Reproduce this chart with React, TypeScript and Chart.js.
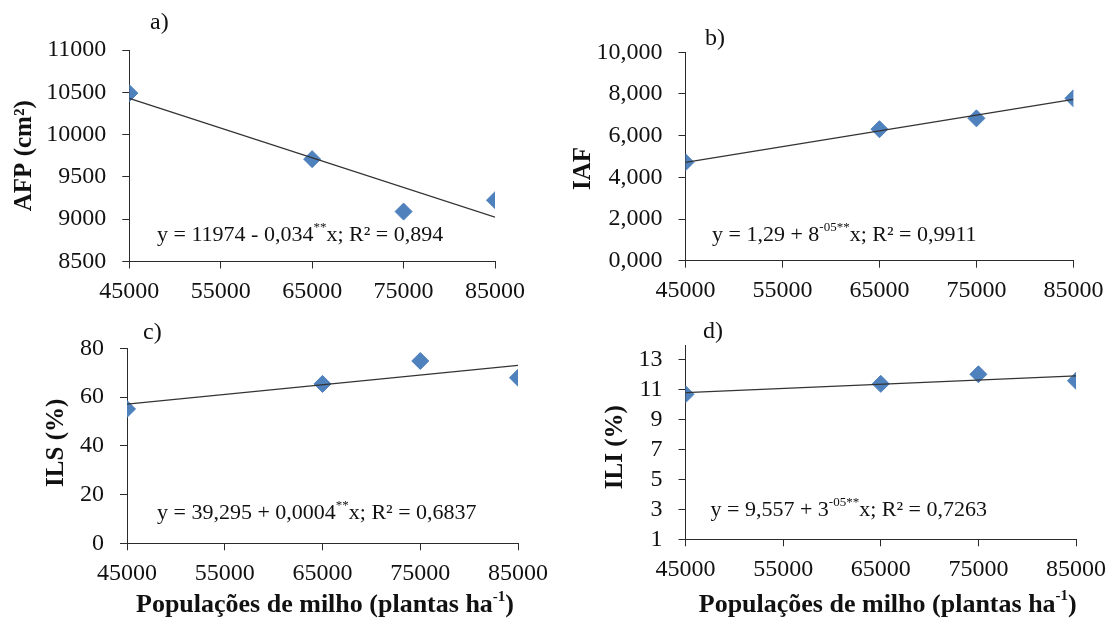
import React, { useEffect, useRef } from "react";
import { Chart, registerables } from "chart.js";

Chart.register(...registerables);

// ---------- data ----------
const populations = [45000, 65000, 75000, 85000];
const xTickValues = [45000, 55000, 65000, 75000, 85000];
const trendX = [45000, 85000];

const afpValues = [10490, 9710, 9090, 9225];
const afpTrend = [10428, 9025];
const afpTicks = [8500, 9000, 9500, 10000, 10500, 11000];

const iafValues = [4.72, 6.31, 6.83, 7.79];
const iafTrend = [4.72, 7.74];
const iafTicks = [0, 2, 4, 6, 8, 10];

const ilsValues = [55.1, 65.4, 74.8, 67.9];
const ilsTrend = [57.1, 73.0];
const ilsTicks = [0, 20, 40, 60, 80];

const iliValues = [10.7, 11.4, 12.04, 11.6];
const iliTrend = [10.81, 11.93];
const iliTicks = [1, 3, 5, 7, 9, 11, 13];

const xAxisTitle = [
  { t: "Populações de milho (plantas ha" },
  { t: "-1", sup: true },
  { t: ")" },
];

// ---------- styles ----------
const FAMILY = "'Liberation Serif', 'Times New Roman', serif";
const AXIS_COLOR = "#2b2b2b";
const TEXT_COLOR = "#111";
const MARKER_FILL = "#4F81BD";
const MARKER_EDGE = "#4A7EBB";
const TREND_COLOR = "#333";
const TICK_SIZE = 24;
const EQ_SIZE = 22;
const TITLE_SIZE = 25;
const XTITLE_SIZE = 26;
const LABEL_SIZE = 24;
const Y_SCALE_W = 110;
const X_SCALE_H = 44;

type Seg = { t: string; sup?: boolean };

type PanelCfg = {
  key: string;
  box: { left: number; top: number; width: number; height: number };
  area: { l: number; r: number; t: number; b: number };
  yMin: number;
  yMax: number;
  yTicks: number[];
  fmt: (v: number) => string;
  values: number[];
  trend: number[];
  label: string;
  labelOff: { dx: number; dy: number };
  yTitle: Seg[];
  yTitleOff: { dx: number; dy: number };
  eq: Seg[];
  eqOff: { dx: number; dy: number };
  xTitleOff?: { dx: number; dy: number };
};

const panels: PanelCfg[] = [
  {
    key: "a",
    box: { left: 0, top: 0, width: 557, height: 310 },
    area: { l: 129.3, r: 495, t: 50, b: 261.5 },
    yMin: 8500,
    yMax: 11000,
    yTicks: afpTicks,
    fmt: (v) => String(v),
    values: afpValues,
    trend: afpTrend,
    label: "a)",
    labelOff: { dx: 20.7, dy: -27 },
    yTitle: [{ t: "AFP (cm²)" }],
    yTitleOff: { dx: -104.3, dy: 0 },
    eq: [{ t: "y = 11974 - 0,034" }, { t: "**", sup: true }, { t: "x; R² = 0,894" }],
    eqOff: { dx: 27.7, dy: -26.5 },
  },
  {
    key: "b",
    box: { left: 557, top: 0, width: 558, height: 310 },
    area: { l: 685.5, r: 1073.4, t: 52.3, b: 260.7 },
    yMin: 0,
    yMax: 10,
    yTicks: iafTicks,
    fmt: (v) => v.toFixed(3).replace(".", ","),
    values: iafValues,
    trend: iafTrend,
    label: "b)",
    labelOff: { dx: 19.5, dy: -13.3 },
    yTitle: [{ t: "IAF" }],
    yTitleOff: { dx: -101.9, dy: 12 },
    eq: [{ t: "y = 1,29 + 8" }, { t: "-05**", sup: true }, { t: "x; R² = 0,9911" }],
    eqOff: { dx: 26.5, dy: -25.7 },
  },
  {
    key: "c",
    box: { left: 0, top: 310, width: 557, height: 309 },
    area: { l: 127, r: 526.3, t: 348.3, b: 543.3 },
    yMin: 0,
    yMax: 80,
    yTicks: ilsTicks,
    fmt: (v) => String(v),
    values: ilsValues,
    trend: ilsTrend,
    label: "c)",
    labelOff: { dx: 16, dy: -15.3 },
    yTitle: [{ t: "ILS (%)" }],
    yTitleOff: { dx: -70, dy: -3 },
    eq: [{ t: "y = 39,295 + 0,0004" }, { t: "**", sup: true }, { t: "x; R² = 0,6837" }],
    eqOff: { dx: 30, dy: -30.3 },
    xTitleOff: { dx: 2.5, dy: 62 },
  },
  {
    key: "d",
    box: { left: 557, top: 310, width: 558, height: 309 },
    area: { l: 685.5, r: 1080.6, t: 345, b: 539.3 },
    yMin: 1,
    yMax: 14,
    yTicks: iliTicks,
    fmt: (v) => String(v),
    values: iliValues,
    trend: iliTrend,
    label: "d)",
    labelOff: { dx: 17.5, dy: -13 },
    yTitle: [{ t: "ILI (%)" }],
    yTitleOff: { dx: -69.7, dy: 5 },
    eq: [{ t: "y = 9,557 + 3" }, { t: "-05**", sup: true }, { t: "x; R² = 0,7263" }],
    eqOff: { dx: 25, dy: -29.3 },
    xTitleOff: { dx: 7, dy: 65.5 },
  },
];

function drawRich(
  ctx: CanvasRenderingContext2D,
  segs: Seg[],
  x: number,
  y: number,
  size: number,
  bold: boolean,
  align: "left" | "center"
) {
  const w = bold ? "bold " : "";
  const baseFont = `${w}${size}px ${FAMILY}`;
  const supFont = `${w}${Math.round(size * 0.58)}px ${FAMILY}`;
  const widths = segs.map((s) => {
    ctx.font = s.sup ? supFont : baseFont;
    return ctx.measureText(s.t).width;
  });
  const total = widths.reduce((a, b) => a + b, 0);
  let cx = align === "center" ? x - total / 2 : x;
  ctx.textAlign = "left";
  ctx.textBaseline = "middle";
  ctx.fillStyle = TEXT_COLOR;
  segs.forEach((s, i) => {
    ctx.font = s.sup ? supFont : baseFont;
    ctx.fillText(s.t, cx, s.sup ? y - size * 0.33 : y);
    cx += widths[i];
  });
}

function makeTextPlugin(p: PanelCfg) {
  return {
    id: "panelText_" + p.key,
    afterDraw(chart: any) {
      const ctx: CanvasRenderingContext2D = chart.ctx;
      const a = chart.chartArea;
      ctx.save();
      drawRich(ctx, [{ t: p.label }], a.left + p.labelOff.dx, a.top + p.labelOff.dy, LABEL_SIZE, false, "left");
      drawRich(ctx, p.eq, a.left + p.eqOff.dx, a.bottom + p.eqOff.dy, EQ_SIZE, false, "left");
      ctx.save();
      ctx.translate(a.left + p.yTitleOff.dx, (a.top + a.bottom) / 2 + p.yTitleOff.dy);
      ctx.rotate(-Math.PI / 2);
      drawRich(ctx, p.yTitle, 0, 0, TITLE_SIZE, true, "center");
      ctx.restore();
      if (p.xTitleOff) {
        drawRich(
          ctx,
          xAxisTitle,
          (a.left + a.right) / 2 + p.xTitleOff.dx,
          a.bottom + p.xTitleOff.dy,
          XTITLE_SIZE,
          true,
          "center"
        );
      }
      ctx.restore();
    },
  };
}

function Panel({ p }: { p: PanelCfg }) {
  const ref = useRef<HTMLCanvasElement | null>(null);
  useEffect(() => {
    if (!ref.current) return;
    const padLeft = p.area.l - p.box.left - Y_SCALE_W;
    const padRight = p.box.left + p.box.width - p.area.r;
    const padTop = p.area.t - p.box.top;
    const padBottom = p.box.top + p.box.height - p.area.b - X_SCALE_H;
    const tickFont = { family: FAMILY, size: TICK_SIZE };
    const chart = new Chart(ref.current, {
      type: "scatter",
      data: {
        datasets: [
          {
            data: trendX.map((x, i) => ({ x, y: p.trend[i] })),
            showLine: true,
            borderColor: TREND_COLOR,
            borderWidth: 1.3,
            pointRadius: 0,
            fill: false,
            order: 0,
          },
          {
            data: populations.map((x, i) => ({ x, y: p.values[i] })),
            pointStyle: "rectRot",
            pointRadius: 8.5,
            backgroundColor: MARKER_FILL,
            borderColor: MARKER_EDGE,
            borderWidth: 1,
            order: 1,
          },
        ],
      } as any,
      options: {
        responsive: false,
        animation: false,
        devicePixelRatio: 1,
        events: [],
        layout: { padding: { left: padLeft, right: padRight, top: padTop, bottom: padBottom } },
        plugins: { legend: { display: false }, tooltip: { enabled: false } },
        scales: {
          x: {
            type: "linear",
            min: 45000,
            max: 85000,
            afterBuildTicks: (s: any) => {
              s.ticks = xTickValues.map((v) => ({ value: v }));
            },
            afterFit: (s: any) => {
              s.height = X_SCALE_H;
            },
            grid: { drawOnChartArea: false, drawTicks: true, tickLength: 7, color: AXIS_COLOR, tickColor: AXIS_COLOR },
            border: { display: true, color: AXIS_COLOR, width: 1 },
            ticks: {
              font: tickFont,
              color: TEXT_COLOR,
              padding: 9,
              maxRotation: 0,
              autoSkip: false,
              callback: (v: any) => String(v),
            },
          },
          y: {
            type: "linear",
            min: p.yMin,
            max: p.yMax,
            afterBuildTicks: (s: any) => {
              s.ticks = p.yTicks.map((v) => ({ value: v }));
            },
            afterFit: (s: any) => {
              s.width = Y_SCALE_W;
            },
            grid: { drawOnChartArea: false, drawTicks: true, tickLength: 7, color: AXIS_COLOR, tickColor: AXIS_COLOR },
            border: { display: true, color: AXIS_COLOR, width: 1 },
            ticks: {
              font: tickFont,
              color: TEXT_COLOR,
              padding: 16,
              autoSkip: false,
              callback: (v: any) => p.fmt(Number(v)),
            },
          },
        },
      } as any,
      plugins: [makeTextPlugin(p)],
    });
    return () => chart.destroy();
  }, [p]);
  return (
    <canvas
      ref={ref}
      width={p.box.width}
      height={p.box.height}
      style={{
        position: "absolute",
        left: p.box.left,
        top: p.box.top,
        width: p.box.width,
        height: p.box.height,
        display: "block",
      }}
    />
  );
}

export default function App() {
  return (
    <div
      style={{
        position: "fixed",
        left: 0,
        top: 0,
        width: 1115,
        height: 619,
        background: "#fff",
        overflow: "hidden",
      }}
    >
      {panels.map((p) => (
        <Panel key={p.key} p={p} />
      ))}
    </div>
  );
}
